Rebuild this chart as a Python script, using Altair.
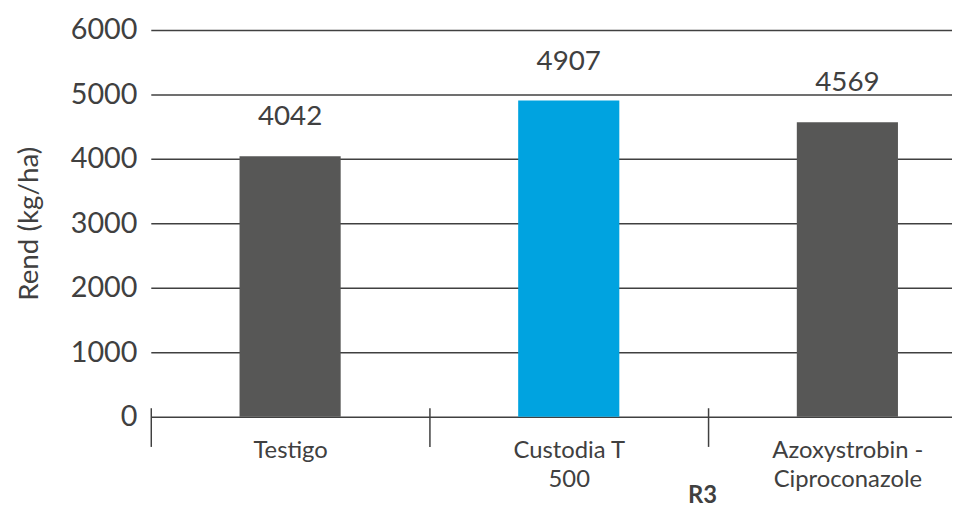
import altair as alt
import pandas as pd

categories = ["Testigo", "Custodia T\n500", "Azoxystrobin -\nCiproconazole"]
values = [4042, 4907, 4569]
groups = ["base", "highlight", "base"]
y_ticks = [0, 1000, 2000, 3000, 4000, 5000, 6000]

df = pd.DataFrame({"cat": categories, "rend": values, "grp": groups})

FONT = "Lato"
TEXT = "#404040"

x = alt.X(
    "cat:N",
    sort=categories,
    title="R3",
    scale=alt.Scale(range=[0, 843], paddingInner=0, paddingOuter=0),
    axis=alt.Axis(
        labelAngle=0,
        offset=-9,
        domain=False,
        tickSize=39,
        tickColor=TEXT,
        tickWidth=1.5,
        tickBand="extent",
        labelPadding=-8,
        labelBaseline="top",
        labelFontSize=24,
        labelColor=TEXT,
        labelFont=FONT,
        labelExpr="split(datum.label, '\\n')",
        labelLineHeight=29,
        titleFontSize=24,
        titleFontWeight="bold",
        titleX=556,
        titleY=96,
        titleAlign="center",
        titleBaseline="alphabetic",
        titleColor=TEXT,
        titleFont=FONT,
    ),
)

y = alt.Y(
    "rend:Q",
    scale=alt.Scale(domain=[0, 6000]),
    title="Rend (kg/ha)",
    axis=alt.Axis(
        values=y_ticks,
        format="d",
        domain=False,
        ticks=False,
        labelPadding=14,
        labelFontSize=29,
        labelColor=TEXT,
        labelFont=FONT,
        grid=True,
        gridColor=TEXT,
        gridWidth=1.5,
        titleX=-108,
        titleY=195,
        titleFontSize=28,
        titleFontWeight="normal",
        titleColor=TEXT,
        titleFont=FONT,
    ),
)

bars = alt.Chart(df).mark_bar(size=102).encode(
    x=x,
    y=y,
    color=alt.Color(
        "grp:N",
        scale=alt.Scale(domain=["base", "highlight"], range=["#575756", "#00A3E0"]),
        legend=None,
    ),
)

labels = alt.Chart(df).mark_text(
    dy=-31, baseline="alphabetic", fontSize=28, color=TEXT, font=FONT
).encode(x=x, y=y, text="rend:Q")

chart = (
    alt.layer(bars, labels)
    .properties(
        width=808,
        height=390,
        autosize=alt.AutoSizeParams(type="none"),
        padding={"left": 144, "top": 20, "right": 0, "bottom": 94},
    )
    .configure_view(stroke=None)
)

chart.save("out.html", embed_options={"renderer": "svg", "actions": False})
